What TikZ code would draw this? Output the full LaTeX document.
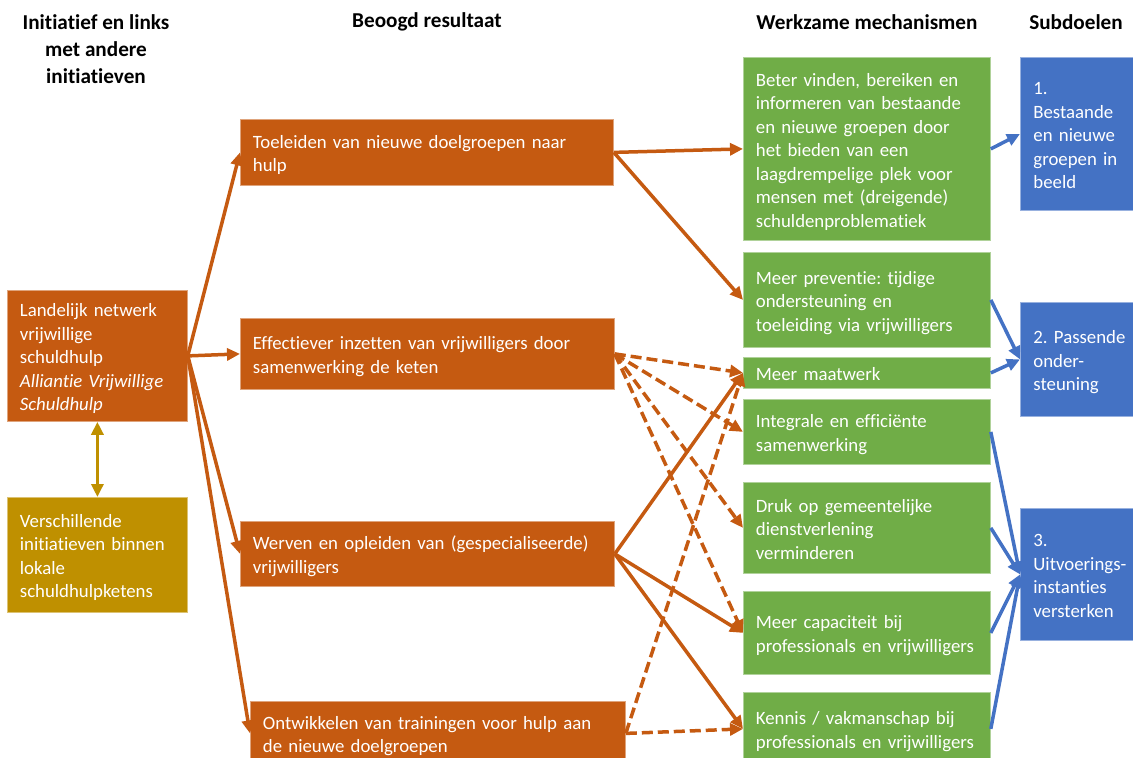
\documentclass[tikz,border=0pt]{standalone}
\usepackage{fontspec}
\setmainfont{Carlito}[Ligatures=NoCommon]
\usetikzlibrary{arrows.meta}
\definecolor{orng}{HTML}{C55A11}
\definecolor{grn}{HTML}{70AD47}
\definecolor{blu}{HTML}{4472C4}
\definecolor{gld}{HTML}{BF9000}
\frenchspacing
\newcommand{\lnstrut}{\rule[-4pt]{0pt}{23.5pt}}
\begin{document}
\begin{tikzpicture}[x=1pt,y=-1pt,
  box/.style={rectangle, fill=#1, draw=#1!55!white, line width=0.8pt, text=white,
    align=left, inner xsep=12.5pt, inner ysep=0pt, anchor=north west,
    font=\fontsize{18.8}{23.5}\selectfont,
    execute at begin node=\lnstrut, execute at end node=\lnstrut},
  hdr/.style={align=center, inner sep=0pt, font=\bfseries\fontsize{21.2}{27}\selectfont},
  tip/.style={-{Triangle[length=13pt,width=12pt]}},
  oarrow/.style={tip, draw=orng, line width=3.5pt},
  odash/.style={oarrow, dash pattern=on 11pt off 5pt},
  barrow/.style={tip, draw=blu, line width=3.5pt},
  garrow/.style={{Triangle[length=13pt,width=12pt]}-{Triangle[length=13pt,width=12pt]}, draw=gld, line width=3.5pt}
]
\useasboundingbox (0,0) rectangle (1133,758);
\clip (0,0) rectangle (1133,758);

% headers
\node[hdr] (h1) at (96,49) {Initiatief en links\\met andere\\initiatieven};
\node[hdr] (h2) at (427,22) {Beoogd resultaat};
\node[hdr] (h3) at (867,22) {Werkzame mechanismen};
\node[hdr] (h4) at (1076,22) {Subdoelen};

% left column
\node[box=orng, minimum width=180pt, minimum height=131pt, text width=155pt] (L) at (7,290)
  {Landelijk netwerk\\vrijwillige\\schuldhulp\\\textit{Alliantie Vrijwillige}\\\textit{Schuldhulp}};
\node[box=gld, minimum width=180pt, minimum height=115pt, text width=155pt] (G) at (7,497)
  {Verschillende\\initiatieven binnen\\lokale\\schuldhulpketens};

% results
\node[box=orng, minimum width=373pt, minimum height=66pt, text width=348pt] (T) at (240,119)
  {Toeleiden van nieuwe doelgroepen naar\\hulp};
\node[box=orng, minimum width=374pt, minimum height=71pt, text width=349pt] (E) at (240,318)
  {Effectiever inzetten van vrijwilligers door\\samenwerking de keten};
\node[box=orng, minimum width=374pt, minimum height=65pt, text width=349pt] (W) at (240,521)
  {Werven en opleiden van (gespecialiseerde)\\vrijwilligers};
\node[box=orng, minimum width=375pt, minimum height=64pt, text width=350pt] (O) at (250,701)
  {Ontwikkelen van trainingen voor hulp aan\\de nieuwe doelgroepen};

% mechanisms
\node[box=grn, minimum width=247pt, minimum height=183pt, text width=222pt] (B1) at (743,57)
  {Beter vinden, bereiken en\\informeren van bestaande\\en nieuwe groepen door\\het bieden van een\\laagdrempelige plek voor\\mensen met (dreigende)\\schuldenproblematiek};
\node[box=grn, minimum width=247pt, minimum height=95pt, text width=222pt] (P) at (743,252)
  {Meer preventie: tijdige\\ondersteuning en\\toeleiding via vrijwilligers};
\node[box=grn, minimum width=247pt, minimum height=31pt, text width=222pt] (M) at (743,357)
  {Meer maatwerk};
\node[box=grn, minimum width=247pt, minimum height=65pt, text width=222pt] (I) at (743,399)
  {Integrale en efficiënte\\samenwerking};
\node[box=grn, minimum width=247pt, minimum height=91pt, text width=222pt] (D) at (743,482)
  {Druk op gemeentelijke\\dienstverlening\\verminderen};
\node[box=grn, minimum width=247pt, minimum height=83pt, text width=222pt] (C) at (743,591)
  {Meer capaciteit bij\\professionals en vrijwilligers};
\node[box=grn, minimum width=247pt, minimum height=73pt, text width=222pt] (K) at (743,692)
  {Kennis / vakmanschap bij\\professionals en vrijwilligers};

% subgoals
\node[box=blu, minimum width=113pt, minimum height=153pt, text width=100pt, inner xsep=13pt] (S1) at (1020,57)
  {1.\\Bestaande\\en nieuwe\\groepen in\\beeld};
\node[box=blu, minimum width=113pt, minimum height=114pt, text width=100pt, inner xsep=13pt] (S2) at (1020,302)
  {2. Passende\\onder-\\steuning};
\node[box=blu, minimum width=113pt, minimum height=132pt, text width=100pt, inner xsep=13pt] (S3) at (1020,508)
  {3.\\Uitvoerings-\\instanties\\versterken};

% connectors
\draw[garrow] (L.south) -- (G.north);

\draw[oarrow] (L.east) -- (T.west);
\draw[oarrow] (L.east) -- (E.west);
\draw[oarrow] (L.east) -- (W.west);
\draw[oarrow] (L.east) -- (O.west);

\draw[oarrow] (T.east) -- (B1.west);
\draw[oarrow] (T.east) -- (P.west);

\draw[odash] (E.east) -- (M.west);
\draw[odash] (E.east) -- (I.west);
\draw[odash] (E.east) -- (D.west);
\draw[odash] (E.east) -- (C.west);

\draw[oarrow] (W.east) -- (M.west);
\draw[oarrow] (W.east) -- (C.west);
\draw[oarrow] (W.east) -- (K.west);

\draw[odash] (O.east) -- (M.west);
\draw[odash] (O.east) -- (K.west);

\draw[barrow] (B1.east) -- (S1.west);
\draw[barrow] (P.east) -- (S2.west);
\draw[barrow] (M.east) -- (S2.west);
\draw[barrow] (I.east) -- (S3.west);
\draw[barrow] (D.east) -- (S3.west);
\draw[barrow] (C.east) -- (S3.west);
\draw[barrow] (K.east) -- (S3.west);
\end{tikzpicture}
\end{document}
